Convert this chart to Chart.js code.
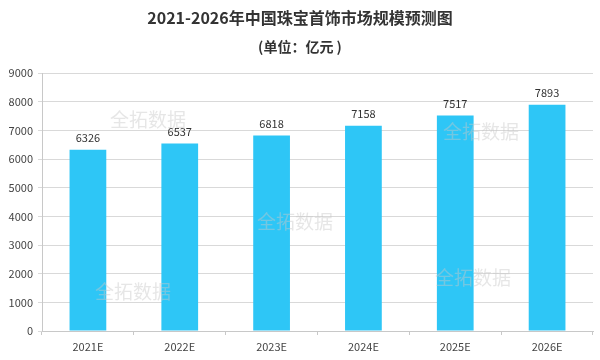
<!DOCTYPE html>
<html>
<head>
<meta charset="utf-8">
<script src="https://cdn.jsdelivr.net/npm/chart.js@4.4.0/dist/chart.umd.min.js"></script>
<style>
  html, body { margin: 0; padding: 0; background: #fff; }
  #wrap { width: 600px; height: 360px; position: relative; }
</style>
</head>
<body>
<div id="wrap"><canvas id="marketChart"></canvas></div>
<script>
// Chart data
const categories = ['2021E', '2022E', '2023E', '2024E', '2025E', '2026E'];
const marketSize = [6326, 6537, 6818, 7158, 7517, 7893];
const yTicks = [0, 1000, 2000, 3000, 4000, 5000, 6000, 7000, 8000, 9000];

const titleText = '2021-2026年中国珠宝首饰市场规模预测图';
const subtitleText = '(单位：亿元 )';
const watermarkText = '全拓数据';

const FONT = '"Noto Sans CJK SC", "Noto Sans", sans-serif';

// Titles drawn at top of canvas
const titlePlugin = {
    id: 'titles',
    afterDraw(chart) {
        const ctx = chart.ctx;
        ctx.save();
        ctx.fillStyle = '#333';
        ctx.textAlign = 'center';
        ctx.textBaseline = 'middle';
        ctx.font = 'bold 16px ' + FONT;
        ctx.fillText(titleText, 300, 18);
        ctx.font = 'bold 14px ' + FONT;
        ctx.fillText(subtitleText, 300, 47);
        ctx.restore();
    }
};

// Value labels above the bars
const valueLabels = {
    id: 'valueLabels',
    afterDatasetsDraw(chart) {
        const ctx = chart.ctx;
        const meta = chart.getDatasetMeta(0);
        ctx.save();
        ctx.fillStyle = '#333';
        ctx.font = '11px ' + FONT;
        ctx.textAlign = 'center';
        ctx.textBaseline = 'middle';
        meta.data.forEach((bar, i) => {
            ctx.fillText(marketSize[i], bar.x, bar.y - 12);
        });
        ctx.restore();
    }
};

// Faint watermark stamps
const watermarks = {
    id: 'watermarks',
    afterDraw(chart) {
        const ctx = chart.ctx;
        const spots = [[148, 120], [295, 222], [133, 292], [481, 132], [473, 278]];
        ctx.save();
        ctx.fillStyle = 'rgba(200, 200, 200, 0.45)';
        ctx.font = '19px ' + FONT;
        ctx.textAlign = 'center';
        ctx.textBaseline = 'middle';
        spots.forEach(p => ctx.fillText(watermarkText, p[0], p[1]));
        ctx.restore();
    }
};

new Chart(document.getElementById('marketChart'), {
    type: 'bar',
    data: {
        labels: categories,
        datasets: [{
            data: marketSize,
            backgroundColor: '#2ec6f6',
            borderWidth: 0,
            categoryPercentage: 1,
            barPercentage: 0.4
        }]
    },
    options: {
        responsive: true,
        maintainAspectRatio: false,
        animation: false,
        layout: { padding: { top: 73, right: 7, left: 0, bottom: 0 } },
        plugins: {
            legend: { display: false },
            tooltip: { enabled: false }
        },
        scales: {
            x: {
                grid: {
                    display: true,
                    drawOnChartArea: false,
                    drawTicks: true,
                    tickLength: 4,
                    color: '#c8c8c8'
                },
                border: { color: '#c8c8c8' },
                ticks: {
                    color: '#444',
                    font: { family: FONT, size: 11 },
                    padding: 5
                },
                afterFit(scale) { scale.height = 29; }
            },
            y: {
                min: 0,
                max: 9000,
                afterBuildTicks(scale) {
                    scale.ticks = yTicks.map(v => ({ value: v }));
                },
                grid: {
                    color: '#d9d9d9',
                    tickLength: 4
                },
                border: { color: '#c8c8c8' },
                ticks: {
                    color: '#444',
                    font: { family: FONT, size: 11 },
                    padding: 5,
                    callback: value => String(value)
                },
                afterFit(scale) { scale.width = 42; }
            }
        }
    },
    plugins: [valueLabels, watermarks, titlePlugin]
});
</script>
</body>
</html>
